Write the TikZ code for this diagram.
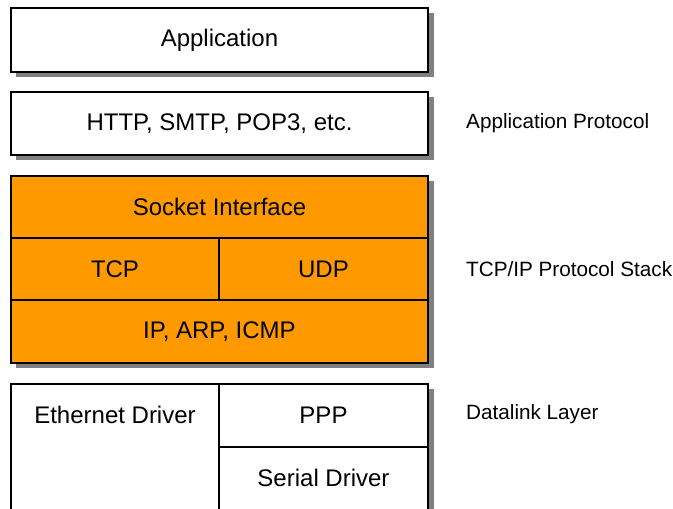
\documentclass[tikz,border=0pt]{standalone}
\usepackage{fontspec}
\setmainfont{Liberation Sans}
\definecolor{stackorange}{HTML}{FF9900}
\definecolor{shadowgray}{HTML}{808080}
\begin{document}
\begin{tikzpicture}[x=1pt,y=-1pt,
  cell/.style={draw=black,line width=1.4pt,rectangle,inner sep=0pt,
    font=\fontsize{24}{28}\selectfont},
  wcell/.style={cell,fill=white},
  ocell/.style={cell,fill=stackorange},
  side/.style={anchor=west,inner sep=0pt,font=\fontsize{20.7}{24}\selectfont},
  shadow/.style={fill=shadowgray}]
\useasboundingbox (0,0) rectangle (673,509);
\clip (0,0) rectangle (673,509);
% shadows
\fill[shadow] (16,13) rectangle (434,77);
\fill[shadow] (16,97) rectangle (434,160);
\fill[shadow] (16,181) rectangle (434,368);
\fill[shadow] (16,389) rectangle (434,530);
% application
\node[wcell,minimum width=417pt,minimum height=64pt] (app) at (219.5,40) {Application};
\node[wcell,minimum width=417pt,minimum height=63pt] (proto) at (219.5,123.5) {HTTP, SMTP, POP3, etc.};
% stack
\node[ocell,minimum width=417pt,minimum height=62pt] (sock) at (219.5,207) {Socket Interface};
\node[ocell,minimum width=208pt,minimum height=62pt] (tcp) at (115,269) {TCP};
\node[ocell,minimum width=209pt,minimum height=62pt] (udp) at (323.5,269) {UDP};
\node[ocell,minimum width=417pt,minimum height=63pt] (ip) at (219.5,331.5) {IP, ARP, ICMP};
% datalink
\node[wcell,minimum width=208pt,minimum height=146pt] (eth) at (115,457) {};
\node[font=\fontsize{24}{28}\selectfont,inner sep=0pt] (ethtext) at (115,415) {Ethernet Driver};
\node[wcell,minimum width=209pt,minimum height=63pt] (ppp) at (323.5,415.5) {PPP};
\node[wcell,minimum width=209pt,minimum height=83pt] (serial) at (323.5,488.5) {};
\node[font=\fontsize{24}{28}\selectfont,inner sep=0pt] (serialtext) at (323.5,478) {Serial Driver};
% side labels
\node[side] (lapp) at (466,123) {Application Protocol};
\node[side] (lstack) at (466,269) {TCP/IP Protocol Stack};
\node[side] (llink) at (466,414) {Datalink Layer};
\end{tikzpicture}
\end{document}
